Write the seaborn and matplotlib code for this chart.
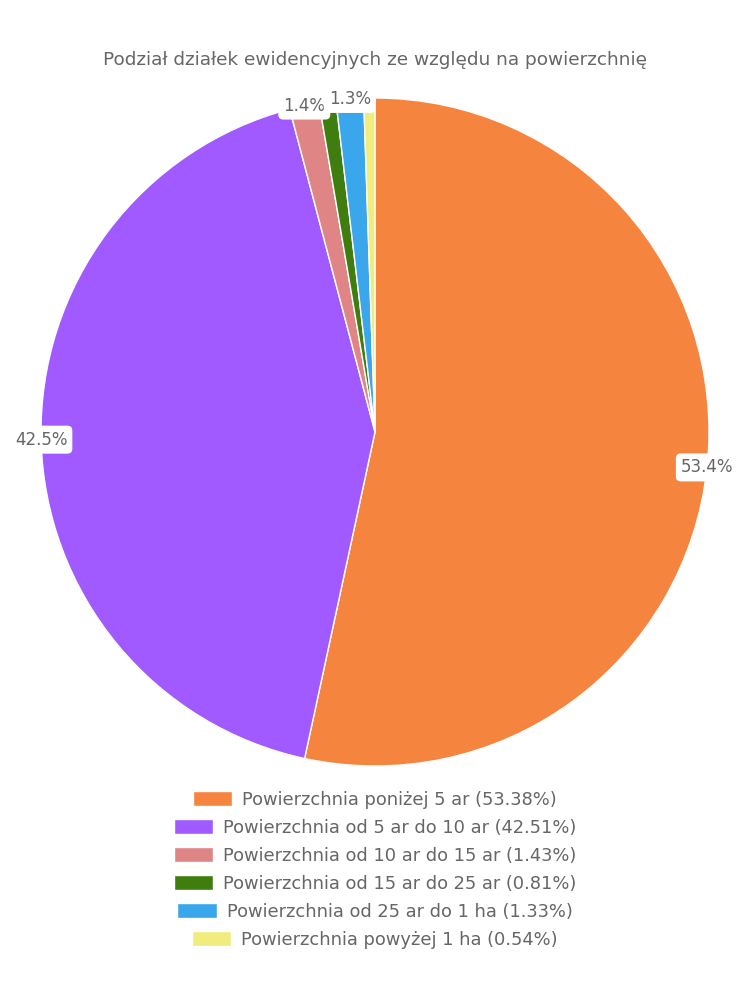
import numpy as np
import pandas as pd
import seaborn as sns
import matplotlib.pyplot as plt
from matplotlib.patches import Patch

categories = [
    "Powierzchnia poniżej 5 ar",
    "Powierzchnia od 5 ar do 10 ar",
    "Powierzchnia od 10 ar do 15 ar",
    "Powierzchnia od 15 ar do 25 ar",
    "Powierzchnia od 25 ar do 1 ha",
    "Powierzchnia powyżej 1 ha",
]
shares = [53.38, 42.51, 1.43, 0.81, 1.33, 0.54]
colors = ["#F5843F", "#A05AFF", "#E08585", "#3F7D0E", "#3AA6EC", "#F0EC7E"]
title = "Podział działek ewidencyjnych ze względu na powierzchnię"

sns.set_theme(style="white")
plt.rcParams['font.family'] = ['DejaVu Sans']
text_color = "#666666"

df = pd.DataFrame({"category": categories, "share": shares, "color": colors})

fig = plt.figure(figsize=(7.5, 10), dpi=100)
ax = fig.add_axes([375 / 750 - 334 / 750, 1 - (432 + 334) / 1000, 668 / 750, 668 / 1000])

wedges, _ = ax.pie(df["share"], colors=df["color"], startangle=90, counterclock=False,
                   radius=1.0, wedgeprops=dict(edgecolor="white", linewidth=1))
ax.set_xlim(-1, 1)
ax.set_ylim(-1, 1)
ax.set_aspect("equal")
ax.axis("off")

# percentage labels on the rim, hidden for small slices
for w, v in zip(wedges, df["share"]):
    if v < 1.0:
        continue
    mid = np.deg2rad((w.theta1 + w.theta2) / 2)
    ax.text(np.cos(mid), np.sin(mid), f"{v:.1f}%", ha="center", va="center",
            fontsize=12, color=text_color, zorder=5,
            bbox=dict(boxstyle="round,pad=0.3,rounding_size=0.3", fc="white", ec="none"))

fig.text(0.5, 1 - 60 / 1000, title, ha="center", va="center", fontsize=13.3, color=text_color)

# one legend per row so every row is centred
row_y = [800, 828, 856, 884, 912, 940]
for (cat, v, c), y in zip(zip(df["category"], df["share"], df["color"]), row_y):
    h = Patch(facecolor=c, edgecolor="white")
    fig.legend(handles=[h], labels=[f"{cat} ({v:.2f}%)"], loc="center",
               bbox_to_anchor=(0.5, 1 - y / 1000), frameon=False, fontsize=12.9,
               labelcolor=text_color, handlelength=2.2, handleheight=0.9,
               handletextpad=0.55, borderpad=0, borderaxespad=0)

fig.savefig("out.png", dpi=100)
